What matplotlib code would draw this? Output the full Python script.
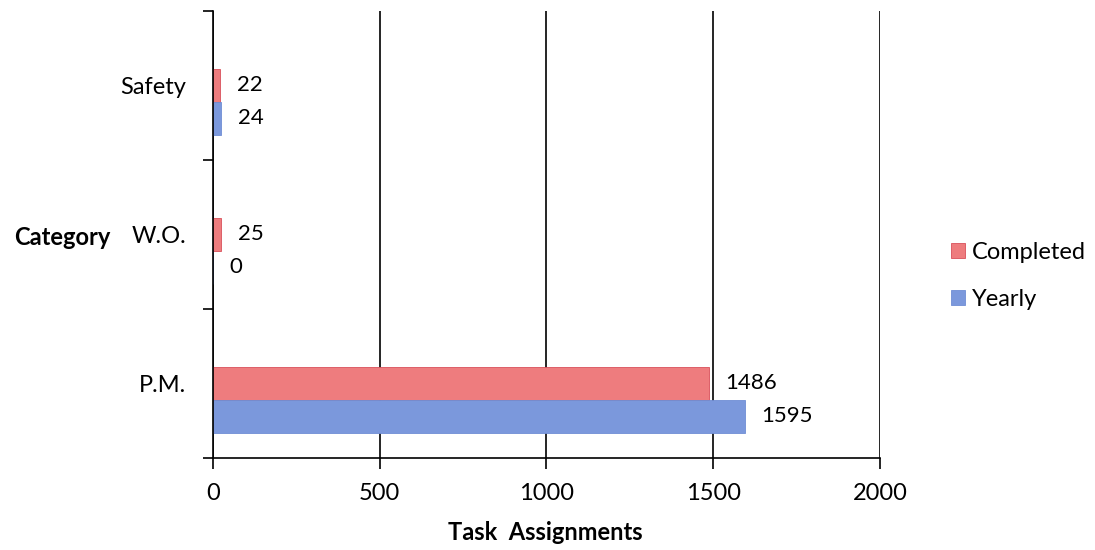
import matplotlib.pyplot as plt
import numpy as np

categories = ['P.M.', 'W.O.', 'Safety']
completed = [1486, 25, 22]
yearly = [1595, 0, 24]

plt.rcParams['font.family'] = ['Lato', 'DejaVu Sans']

fig = plt.figure(figsize=(10.95, 5.5), dpi=100)
ax = fig.add_axes([0.1945, 0.1673, 0.6091, 0.8127])

y = np.arange(len(categories))
h = 0.22
red = '#ee7c7e'
blue = '#7b98dc'

b1 = ax.barh(y, completed, height=h, color=red, edgecolor='#d9505a', linewidth=0.6, label='Completed')
b2 = ax.barh(y - h, yearly, height=h, color=blue, edgecolor='#6f8dd4', linewidth=0.6, label='Yearly')
ax.bar_label(b1, padding=12, fontsize=16)
ax.bar_label(b2, padding=12, fontsize=16)

ax.set_xlim(0, 2000)
ax.set_ylim(-0.5, 2.5)
ax.set_xticks([0, 500, 1000, 1500, 2000])
ax.set_yticks(y)
ax.set_yticklabels(categories)
ax.set_yticks([-0.5, 0.5, 1.5, 2.5], minor=True)
ax.tick_params(axis='y', which='major', length=0, pad=19, labelsize=17)
ax.tick_params(axis='y', which='minor', length=7, width=1.2, direction='out')
ax.tick_params(axis='x', length=8, width=1.2, direction='out', pad=10, labelsize=17)

ax.grid(axis='x', color='black', linewidth=1.2)
ax.set_axisbelow(True)
ax.spines['top'].set_visible(False)
ax.spines['right'].set_visible(False)
ax.spines['left'].set_linewidth(1.2)
ax.spines['bottom'].set_linewidth(1.2)

ax.set_xlabel('Task  Assignments', fontsize=17, fontweight='bold')
ax.xaxis.set_label_coords(0.499, -0.141)
ax.set_ylabel('Category', fontsize=17, fontweight='bold', rotation=0, ha='right', va='center')
ax.yaxis.set_label_coords(-0.154, 0.494)

fig.legend(handles=[b1, b2], loc='center left', bbox_to_anchor=(0.849, 0.498),
           frameon=False, fontsize=17, handlelength=0.6, handleheight=0.6,
           handletextpad=0.3, labelspacing=1.1)

fig.savefig('out.png', dpi=100)
